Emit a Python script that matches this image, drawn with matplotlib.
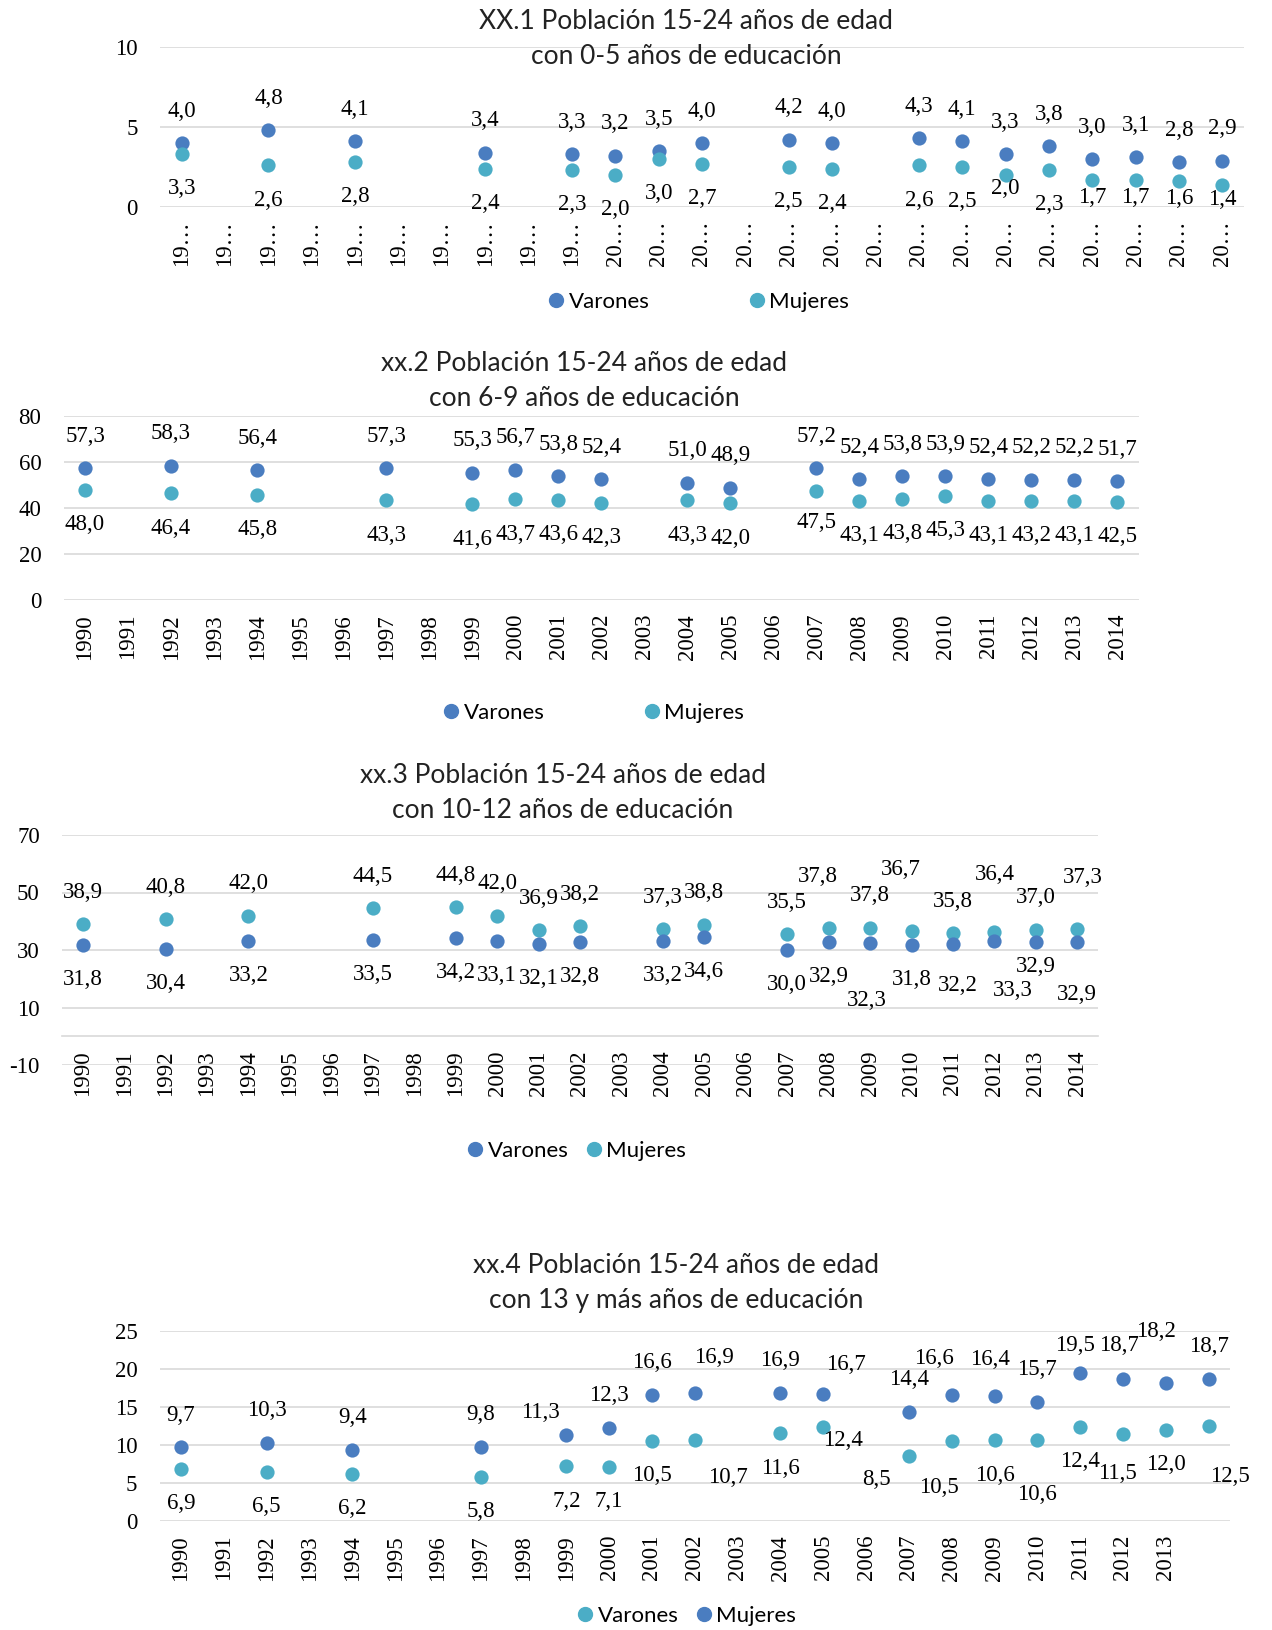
import matplotlib.pyplot as plt
from matplotlib.lines import Line2D

plt.rcParams['axes.unicode_minus'] = False

# categorias del eje x
anios = list(range(1990, 2015))
anios_dato = [1990, 1992, 1994, 1997, 1999, 2000, 2001, 2002, 2004, 2005,
              2007, 2008, 2009, 2010, 2011, 2012, 2013, 2014]

# xx.1  0-5 anios de educacion
var_05 = [4.0, 4.8, 4.1, 3.4, 3.3, 3.2, 3.5, 4.0, 4.2, 4.0,
          4.3, 4.1, 3.3, 3.8, 3.0, 3.1, 2.8, 2.9]
muj_05 = [3.3, 2.6, 2.8, 2.4, 2.3, 2.0, 3.0, 2.7, 2.5, 2.4,
          2.6, 2.5, 2.0, 2.3, 1.7, 1.7, 1.6, 1.4]

# xx.2  6-9 anios
var_69 = [57.3, 58.3, 56.4, 57.3, 55.3, 56.7, 53.8, 52.4, 51.0, 48.9,
          57.2, 52.4, 53.8, 53.9, 52.4, 52.2, 52.2, 51.7]
muj_69 = [48.0, 46.4, 45.8, 43.3, 41.6, 43.7, 43.6, 42.3, 43.3, 42.0,
          47.5, 43.1, 43.8, 45.3, 43.1, 43.2, 43.1, 42.5]

# xx.3  10-12 anios
var_1012 = [31.8, 30.4, 33.2, 33.5, 34.2, 33.1, 32.1, 32.8, 33.2, 34.6,
            30.0, 32.9, 32.3, 31.8, 32.2, 33.3, 32.9, 32.9]
muj_1012 = [38.9, 40.8, 42.0, 44.5, 44.8, 42.0, 36.9, 38.2, 37.3, 38.8,
            35.5, 37.8, 37.8, 36.7, 35.8, 36.4, 37.0, 37.3]

# xx.4  13 y mas anios
var_13 = [6.9, 6.5, 6.2, 5.8, 7.2, 7.1, 10.5, 10.7, 11.6, 12.4,
          8.5, 10.5, 10.6, 10.6, 12.4, 11.5, 12.0, 12.5]
muj_13 = [9.7, 10.3, 9.4, 9.8, 11.3, 12.3, 16.6, 16.9, 16.9, 16.7,
          14.4, 16.6, 16.4, 15.7, 19.5, 18.7, 18.2, 18.7]

AZUL = '#4a7dc0'
CELESTE = '#4badc6'
GRIS = '#d9d9d9'
SERIF = 'Liberation Serif'
SANS = 'Lato'

W, H = 1272, 1630
fig = plt.figure(figsize=(W / 100, H / 100), dpi=100)


def px_rect(x0, x1, ytop, ybot):
    return [x0 / W, 1 - ybot / H, (x1 - x0) / W, (ybot - ytop) / H]


def etiquetas(ax, vals, arriba, ajustes):
    for yr, v in zip(anios_dato, vals):
        dx, dy = ajustes.get(yr, (0, 23 if arriba else -25))
        ax.annotate(f'{v:.1f}'.replace('.', ','), (anios.index(yr), v),
                    xytext=(dx, dy), textcoords='offset points',
                    ha='center', va='center', fontsize=16.5, family=SERIF)


def panel(rect, top_vals, bot_vals, top_col, bot_col, ylim, yticks, xlabels,
          titulo, tpos, adj_top, adj_bot, leg, leg_pos, colsp, eje0=False):
    ax = fig.add_axes(rect)
    for s in ax.spines.values():
        s.set_visible(False)
    if eje0:
        # linea del eje de categorias en cero
        ax.spines['bottom'].set_visible(True)
        ax.spines['bottom'].set_position(('data', 0))
        ax.spines['bottom'].set_color(GRIS)
        ax.spines['bottom'].set_linewidth(1.2)
    xs = [anios.index(a) for a in anios_dato]
    ax.scatter(xs, top_vals, s=105, color=top_col, zorder=3, linewidths=0)
    ax.scatter(xs, bot_vals, s=105, color=bot_col, zorder=3, linewidths=0)
    ax.set_xlim(-0.5, len(anios) - 0.5)
    ax.set_ylim(*ylim)
    ax.set_yticks(yticks)
    ax.set_xticks(range(len(anios)))
    ax.set_xticklabels(xlabels, rotation=90, family=SERIF, fontsize=16.5)
    for t in ax.get_yticklabels():
        t.set_family(SERIF)
        t.set_fontsize(16.5)
    ax.grid(axis='y', color=GRIS, lw=1.2)
    ax.set_axisbelow(True)
    ax.tick_params(length=0, axis='y', pad=16)
    ax.tick_params(length=0, axis='x', pad=10)
    etiquetas(ax, top_vals, True, adj_top)
    etiquetas(ax, bot_vals, False, adj_bot)
    fig.text(tpos[0] / W, 1 - tpos[1] / H, titulo, ha='center', va='center',
             fontsize=19, family=SANS, color='#222222', linespacing=1.5)
    handles = [Line2D([], [], ls='', marker='o', ms=10, color=c) for c, _ in leg]
    ax.legend(handles, [n for _, n in leg], loc='center',
              bbox_to_anchor=(leg_pos[0] / W, 1 - leg_pos[1] / H),
              bbox_transform=fig.transFigure, ncol=2, frameon=False,
              prop={'family': SANS, 'size': 16}, handlelength=0.5,
              handletextpad=0.3, columnspacing=colsp)
    return ax


# xx.1
panel(px_rect(160, 1244, 47, 207), var_05, muj_05, AZUL, CELESTE,
      (0, 10), [0, 5, 10],
      ['19…' if a < 2000 else '20…' for a in anios],
      'XX.1 Población 15-24 años de edad\ncon 0-5 años de educación', (686, 39),
      {}, {2009: (0, -10), 2011: (0, -13), 2012: (0, -13), 2013: (0, -12.5),
           2014: (0, -11)},
      [(AZUL, 'Varones'), (CELESTE, 'Mujeres')], (700, 302), 4.6)

# xx.2
panel(px_rect(63.5, 1139, 416, 600), var_69, muj_69, AZUL, CELESTE,
      (0, 80), [0, 20, 40, 60, 80], [str(a) for a in anios],
      'xx.2 Población 15-24 años de edad\ncon 6-9 años de educación', (584, 381),
      {}, {2007: (0, -23)},
      [(AZUL, 'Varones'), (CELESTE, 'Mujeres')], (595, 713), 4.6)

# xx.3
panel(px_rect(62, 1098, 835, 1065), muj_1012, var_1012, CELESTE, AZUL,
      (-10, 70), [-10, 10, 30, 50, 70], [str(a) for a in anios],
      'xx.3 Población 15-24 años de edad\ncon 10-12 años de educación', (563, 793),
      {2008: (-8, 37), 2010: (-8, 44), 2012: (0, 41), 2014: (4, 37)},
      {2009: (-2, -41), 2011: (3.5, -30), 2012: (13, -36), 2013: (0, -18),
       2014: (0, -38)},
      [(AZUL, 'Varones'), (CELESTE, 'Mujeres')], (578, 1151), 0.9, eje0=True)

# xx.4
panel(px_rect(159.6, 1230, 1331, 1521), muj_13, var_13, AZUL, CELESTE,
      (0, 25), [0, 5, 10, 15, 20, 25],
      [str(a) if a < 2014 else '' for a in anios],
      'xx.4 Población 15-24 años de edad\ncon 13 y más años de educación', (676, 1283),
      {1999: (-19, 16), 2002: (14, 25), 2005: (16, 21.5), 2008: (-13, 26),
       2009: (-3, 26.6), 2011: (-3.5, 20), 2012: (-3, 24), 2013: (-7, 37)},
      {2002: (24, -27), 2004: (0, -26), 2005: (14, -9.6), 2007: (-23, -16.5),
       2008: (-9, -33), 2010: (0, -39), 2012: (-4, -29), 2014: (15, -36.5)},
      [(CELESTE, 'Varones'), (AZUL, 'Mujeres')], (688, 1616), 0.9)

fig.savefig('out.png', dpi=100, facecolor='white')
